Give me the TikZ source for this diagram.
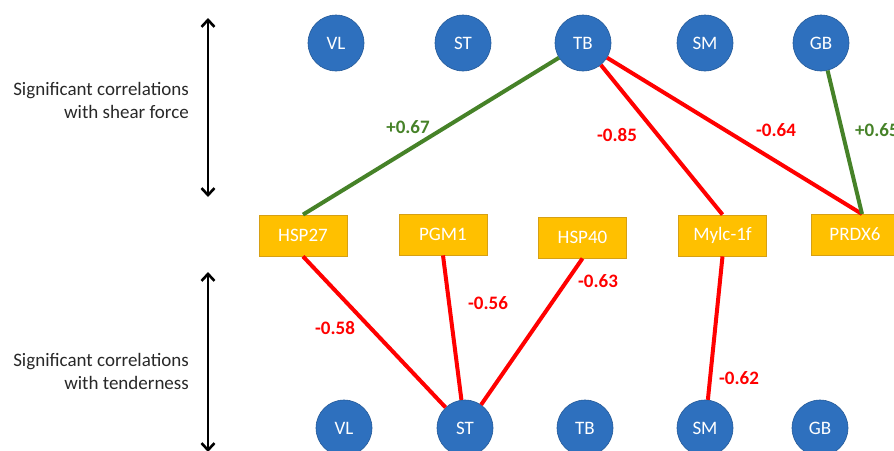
\documentclass[tikz,border=0pt]{standalone}
\usepackage{fontspec}
\setmainfont{Carlito}
\usetikzlibrary{arrows.meta}
\definecolor{cblue}{RGB}{46,112,190}
\definecolor{cgold}{RGB}{255,192,0}
\definecolor{cgoldb}{RGB}{214,160,20}
\definecolor{cred}{RGB}{255,0,0}
\definecolor{cgreen}{RGB}{70,130,40}
\definecolor{ctext}{RGB}{40,40,40}
\begin{document}
\begin{tikzpicture}[x=1pt,y=-1pt,
  musc/.style={circle,fill=cblue,draw=cblue!80!black,line width=0.6pt,minimum size=56pt,inner sep=0pt,text=white,font=\fontsize{19}{23}\selectfont},
  prot/.style={rectangle,fill=cgold,draw=cgoldb,line width=0.8pt,minimum width=88pt,minimum height=41pt,inner sep=0pt,text=white,font=\fontsize{19}{23}\selectfont},
  negline/.style={cred,line width=4pt},
  posline/.style={cgreen,line width=4pt},
  neglab/.style={text=cred,font=\fontsize{19}{23}\selectfont\bfseries,inner sep=0pt},
  poslab/.style={text=cgreen,font=\fontsize{19}{23}\selectfont\bfseries,inner sep=0pt},
  side/.style={align=right,text=ctext,font=\fontsize{19}{23}\selectfont,inner sep=0pt,anchor=east},
  dbl/.style={{Straight Barb[length=7pt,width=13pt]}-{Straight Barb[length=7pt,width=13pt]},line width=2.6pt,black}
]
\useasboundingbox (0,0) rectangle (894,450);
% top row
\node[musc] (tVL) at (336,43) {VL};
\node[musc] (tST) at (463,43) {ST};
\node[musc] (tTB) at (583,43) {TB};
\node[musc] (tSM) at (705,43) {SM};
\node[musc] (tGB) at (821,43) {GB};
% bottom row
\node[musc] (bVL) at (344,428) {VL};
\node[musc] (bST) at (465,428) {ST};
\node[musc] (bTB) at (585,428) {TB};
\node[musc] (bSM) at (705,428) {SM};
\node[musc] (bGB) at (820,428) {GB};
% proteins
\node[prot] (HSP27) at (303,235.5) {HSP27};
\node[prot] (PGM1) at (443,234.5) {PGM1};
\node[prot] (HSP40) at (582.5,237.5) {HSP40};
\node[prot] (Mylc) at (722.5,235.5) {Mylc-1f};
\node[prot] (PRDX6) at (855,234.5) {PRDX6};
\coordinate (prdxtop) at (862,214);
% connectors
\draw[posline] (tTB) -- (HSP27.north);
\draw[negline] (tTB) -- (Mylc.north);
\draw[negline] (tTB) -- (prdxtop);
\draw[posline] (tGB) -- (prdxtop);
\draw[negline] (HSP27.south) -- (bST);
\draw[negline] (PGM1.south) -- (bST);
\draw[negline] (HSP40.south) -- (bST);
\draw[negline] (Mylc.south) -- (bSM);
% labels
\node[poslab] (l1) at (408,127) {+0.67};
\node[neglab] (l2) at (617,135) {-0.85};
\node[neglab] (l3) at (776,130) {-0.64};
\node[poslab,anchor=west] (l4) at (855,130) {+0.65};
\node[neglab] (l5) at (488,303) {-0.56};
\node[neglab] (l6) at (598,281) {-0.63};
\node[neglab] (l7) at (335,328) {-0.58};
\node[neglab] (l8) at (739,378) {-0.62};
% side arrows and texts
\coordinate (a1) at (208,18);
\coordinate (a2) at (208,197);
\coordinate (a3) at (208,272);
\coordinate (a4) at (208,452);
\draw[dbl] (a1) -- (a2);
\draw[dbl] (a3) -- (a4);
\node[side] (s1) at (189,100) {Significant correlations\\with shear force};
\node[side] (s2) at (189,371) {Significant correlations\\with tenderness};
\end{tikzpicture}
\end{document}
